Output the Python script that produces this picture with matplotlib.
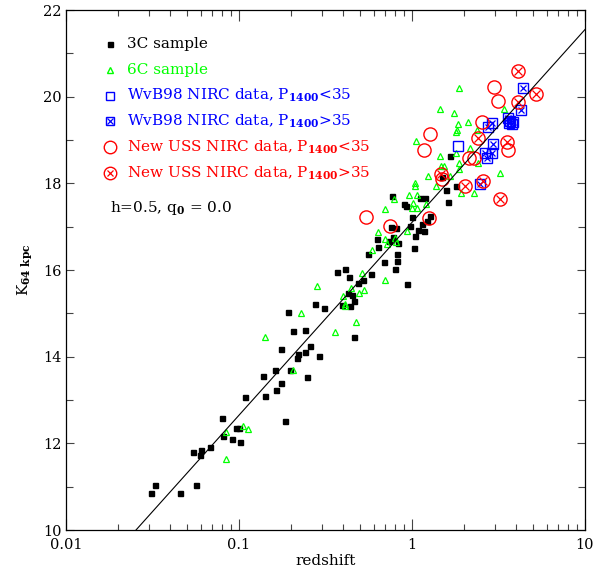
import numpy as np
import matplotlib.pyplot as plt
from matplotlib.ticker import LogLocator, MultipleLocator, NullFormatter

# 3C sample
z_3c = [0.0309, 0.0327, 0.0454, 0.0562, 0.0540, 0.0601, 0.0595, 0.0677, 0.0797, 0.0812,
        0.0907, 0.0957, 0.0996, 0.102, 0.108, 0.137, 0.141, 0.161, 0.163, 0.174,
        0.174, 0.185, 0.192, 0.196, 0.204, 0.216, 0.218, 0.241, 0.241, 0.246,
        0.257, 0.274, 0.289, 0.309, 0.367, 0.410, 0.433, 0.519, 0.488, 0.428,
        0.450, 0.462, 0.436, 0.395, 0.462, 0.579, 0.555, 0.634, 0.628, 0.689,
        0.798, 0.816, 0.816, 0.740, 0.773, 0.826, 0.757, 0.808, 0.764, 0.903,
        0.923, 0.995, 0.973, 1.08, 1.17, 1.04, 1.03, 1.14, 1.22, 1.27,
        1.11, 1.19, 0.931, 1.66, 1.80, 1.57, 1.61, 1.49]
k_3c = [10.86, 11.04, 10.86, 11.04, 11.80, 11.85, 11.73, 11.91, 12.58, 12.16,
        12.10, 12.35, 12.35, 12.03, 13.08, 13.55, 13.09, 13.69, 13.23, 13.40,
        14.18, 12.52, 15.03, 13.69, 14.59, 13.97, 14.06, 14.61, 14.11, 13.53,
        14.25, 15.22, 14.01, 15.12, 15.96, 16.02, 15.85, 15.78, 15.71, 15.46,
        15.42, 15.29, 15.18, 15.20, 14.45, 15.91, 16.36, 16.54, 16.71, 16.19,
        16.03, 16.21, 16.37, 16.67, 16.76, 16.63, 17.00, 16.96, 17.71, 17.52,
        17.48, 17.23, 17.02, 16.92, 16.91, 16.79, 16.51, 17.06, 17.14, 17.25,
        17.67, 17.67, 15.68, 18.63, 17.95, 17.85, 17.58, 18.14]

# 6C sample
z_6c = [0.284, 0.229, 0.142, 0.360, 0.206, 0.0838, 0.105, 0.112, 0.0841, 0.401,
        0.410, 0.410, 0.444, 0.491, 0.530, 0.473, 0.512, 0.702, 0.590, 0.633,
        0.702, 0.713, 0.798, 0.808, 0.700, 0.792, 0.931, 0.962, 1.07, 1.01,
        0.998, 1.07, 1.04, 1.04, 1.21, 1.23, 1.05, 1.37, 1.45, 1.47,
        1.54, 1.46, 1.66, 1.76, 1.80, 1.83, 1.79, 1.85, 1.88, 1.87,
        1.86, 1.91, 2.11, 2.16, 2.29, 2.39, 2.40, 3.23, 3.41]
k_6c = [15.63, 15.01, 14.45, 14.58, 13.70, 12.27, 12.39, 12.32, 11.63, 15.40,
        15.21, 15.17, 15.59, 15.46, 15.55, 14.81, 15.92, 15.78, 16.46, 16.87,
        16.71, 16.59, 16.73, 16.65, 17.40, 17.63, 16.90, 17.72, 17.73, 17.55,
        17.43, 17.43, 18.01, 17.93, 17.52, 18.18, 18.98, 17.95, 18.62, 18.40,
        18.40, 19.72, 18.17, 19.63, 19.19, 19.22, 18.71, 19.38, 20.21, 18.48,
        18.34, 17.78, 19.41, 18.81, 17.77, 19.23, 18.47, 18.23, 19.71]

# WvB98 NIRC data, P1400 < 35
z_wvb_lo = [1.85]
k_wvb_lo = [18.87]

# WvB98 NIRC data, P1400 > 35
z_wvb_hi = [4.40, 4.24, 3.60, 3.69, 3.85, 3.65, 3.77, 2.90, 2.76, 2.92,
            2.64, 2.91, 2.70, 2.47]
k_wvb_hi = [20.19, 19.70, 19.50, 19.45, 19.42, 19.39, 19.37, 19.39, 19.29, 18.90,
            18.69, 18.69, 18.58, 17.98]

# New USS NIRC data, P1400 < 35
z_uss_lo = [2.99, 3.16, 2.53, 3.59, 1.27, 1.17, 2.13, 2.29, 1.49, 0.542, 0.746, 1.26]
k_uss_lo = [20.22, 19.91, 19.42, 18.77, 19.15, 18.77, 18.58, 18.58, 18.11, 17.22, 17.02, 17.19]

# New USS NIRC data, P1400 > 35
z_uss_hi = [4.12, 5.21, 4.12, 2.42, 3.52, 2.56, 2.02, 1.47, 3.23]
k_uss_hi = [20.60, 20.07, 19.87, 19.04, 18.96, 18.06, 17.95, 18.22, 17.63]

# K-z relation: K = k_at_z1 + slope * log10(z)
k_at_z1 = 17.10
slope = 4.45

GREEN = '#00ff00'
BLUE = '#0000ff'
RED = '#ff0000'

plt.rcParams['font.family'] = ['DejaVu Serif']
plt.rcParams['mathtext.fontset'] = 'dejavuserif'

fig = plt.figure(figsize=(5.93, 5.73), dpi=100)
ax = fig.add_axes([0.1113, 0.075, 0.8752, 0.9075])

ax.plot(z_3c, k_3c, 's', ms=3.6, color='k', ls='none')
ax.plot(z_6c, k_6c, '^', ms=4.8, mfc='none', mec=GREEN, mew=0.9, ls='none')
ax.plot(z_wvb_lo, k_wvb_lo, 's', ms=6.5, mfc='none', mec=BLUE, mew=1.0, ls='none')
ax.plot(z_wvb_hi, k_wvb_hi, 's', ms=6.5, mfc='none', mec=BLUE, mew=1.0, ls='none')
ax.plot(z_wvb_hi, k_wvb_hi, 'x', ms=4.5, mec=BLUE, mew=0.9, ls='none')
ax.plot(z_uss_lo, k_uss_lo, 'o', ms=9.5, mfc='none', mec=RED, mew=1.0, ls='none')
ax.plot(z_uss_hi, k_uss_hi, 'o', ms=9.5, mfc='none', mec=RED, mew=1.0, ls='none')
ax.plot(z_uss_hi, k_uss_hi, 'x', ms=5.5, mec=RED, mew=0.9, ls='none')

zz = np.logspace(-2, 1, 50)
ax.plot(zz, k_at_z1 + slope * np.log10(zz), color='k', lw=0.8)

ax.set_xscale('log')
ax.set_xlim(0.01, 10)
ax.set_ylim(10, 22)
ax.set_xticks([0.01, 0.1, 1, 10])
ax.set_xticklabels(['0.01', '0.1', '1', '10'])
ax.xaxis.set_minor_locator(LogLocator(base=10, subs=np.arange(2, 10)))
ax.xaxis.set_minor_formatter(NullFormatter())
ax.yaxis.set_major_locator(MultipleLocator(2))
ax.yaxis.set_minor_locator(MultipleLocator(1))

ax.tick_params(which='both', direction='in', top=True, right=True,
               labelsize=10.5, width=0.8, color='#444444')
ax.tick_params(axis='x', which='major', length=8, pad=6)
ax.tick_params(axis='x', which='minor', length=4)
ax.tick_params(axis='y', which='major', length=6, pad=3)
ax.tick_params(axis='y', which='minor', length=5)
for s in ax.spines.values():
    s.set_linewidth(0.9)

ax.set_xlabel('redshift', fontsize=11, labelpad=1)
ax.set_ylabel(r'K$_{\mathbf{64\ kpc}}$', fontsize=11, labelpad=6)

# key drawn in the upper left corner
key_rows = [
    ('s', 3.6, 'k', 'k', None, '3C sample'),
    ('^', 4.0, 'none', GREEN, None, '6C sample'),
    ('s', 6.0, 'none', BLUE, None, r'WvB98 NIRC data, P$_{\mathbf{1400}}$<35'),
    ('s', 6.0, 'none', BLUE, 4.0, r'WvB98 NIRC data, P$_{\mathbf{1400}}$>35'),
    ('o', 9.0, 'none', RED, None, r'New USS NIRC data, P$_{\mathbf{1400}}$<35'),
    ('o', 9.0, 'none', RED, 5.0, r'New USS NIRC data, P$_{\mathbf{1400}}$>35'),
]
y0 = 0.935
for i, (mk, ms, fc, ec, xs, label) in enumerate(key_rows):
    y = y0 - i * 0.0497
    ax.plot([0.085], [y], mk, ms=ms, mfc=fc, mec=ec, mew=1.0,
            transform=ax.transAxes, clip_on=False)
    if xs:
        ax.plot([0.085], [y], 'x', ms=xs, mec=ec, mew=0.9,
                transform=ax.transAxes, clip_on=False)
    txt_color = 'k' if ec == 'k' else ec
    ax.text(0.118, y, label, color=txt_color, fontsize=11,
            transform=ax.transAxes, va='center', ha='left')

ax.text(0.085, 0.619, r'h=0.5, q$_{\mathbf{0}}$ = 0.0', color='k', fontsize=11,
        transform=ax.transAxes, va='center', ha='left')

fig.savefig('out.png', dpi=100)
